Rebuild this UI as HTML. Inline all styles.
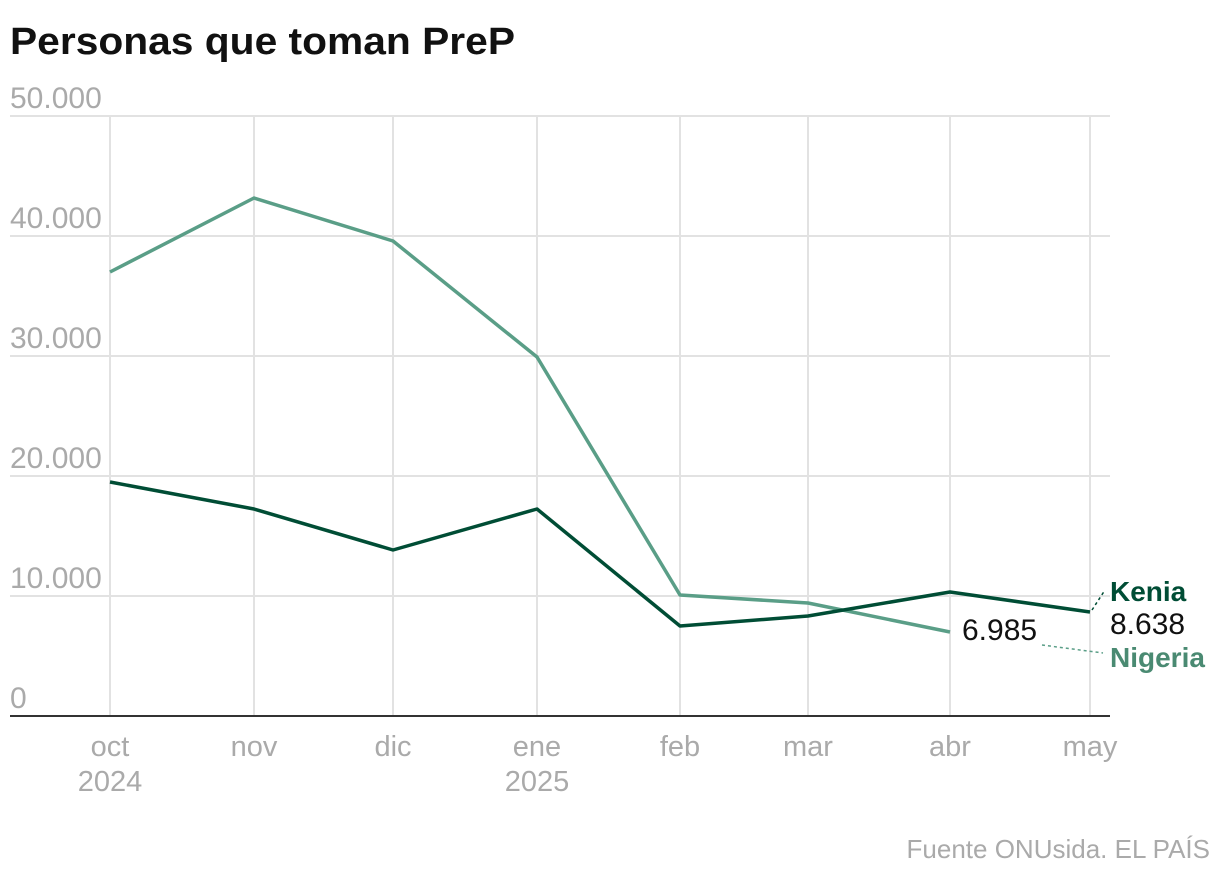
<!DOCTYPE html>
<html><head><meta charset="utf-8"><style>
body{margin:0;background:#fff;}
svg text{font-family:"Liberation Sans",sans-serif;}
</style></head><body>
<svg width="1220" height="878" viewBox="0 0 1220 878" xmlns="http://www.w3.org/2000/svg">
<text x="10" y="54" font-size="38" font-weight="bold" fill="#111" textLength="505" lengthAdjust="spacingAndGlyphs">Personas que toman PreP</text>
<g stroke="#e2e2e2" stroke-width="2">
<line x1="10" y1="116" x2="1110" y2="116"/>
<line x1="10" y1="236" x2="1110" y2="236"/>
<line x1="10" y1="356" x2="1110" y2="356"/>
<line x1="10" y1="476" x2="1110" y2="476"/>
<line x1="10" y1="596" x2="1110" y2="596"/>
<line x1="110" y1="116" x2="110" y2="716"/>
<line x1="254" y1="116" x2="254" y2="716"/>
<line x1="393" y1="116" x2="393" y2="716"/>
<line x1="537" y1="116" x2="537" y2="716"/>
<line x1="680" y1="116" x2="680" y2="716"/>
<line x1="808" y1="116" x2="808" y2="716"/>
<line x1="950" y1="116" x2="950" y2="716"/>
<line x1="1090" y1="116" x2="1090" y2="716"/>
</g>
<line x1="10" y1="716" x2="1110" y2="716" stroke="#333" stroke-width="2"/>
<g font-size="30" fill="#aaa">
<text x="10" y="108">50.000</text>
<text x="10" y="228">40.000</text>
<text x="10" y="348">30.000</text>
<text x="10" y="468">20.000</text>
<text x="10" y="588">10.000</text>
<text x="10" y="708">0</text>
</g>
<g font-size="29" fill="#aaa" text-anchor="middle">
<text x="110" y="756">oct</text><text x="110" y="791">2024</text>
<text x="254" y="756">nov</text>
<text x="393" y="756">dic</text>
<text x="537" y="756">ene</text><text x="537" y="791">2025</text>
<text x="680" y="756">feb</text>
<text x="808" y="756">mar</text>
<text x="950" y="756">abr</text>
<text x="1090" y="756">may</text>
</g>
<polyline fill="none" stroke="#5a9e87" stroke-width="3.5" stroke-linejoin="round" points="110,272 254,198 393,241 537,357 680,595 808,603 950,632"/>
<polyline fill="none" stroke="#004d35" stroke-width="3.5" stroke-linejoin="round" points="110,482 254,509 393,550 537,509 680,626 808,616 950,592 1090,612"/>
<line x1="1092" y1="610" x2="1105" y2="590" stroke="#004d35" stroke-width="1.5" stroke-dasharray="3,3"/>
<line x1="1042" y1="645" x2="1103" y2="653" stroke="#5a9e87" stroke-width="1.5" stroke-dasharray="3,3"/>
<text x="1110" y="601" font-size="28" font-weight="bold" fill="#004d35">Kenia</text>
<text x="1110" y="634" font-size="30" fill="#111">8.638</text>
<text x="1110" y="667" font-size="28" font-weight="bold" fill="#4a8a72">Nigeria</text>
<text x="962" y="640" font-size="30" fill="#111">6.985</text>
<text x="1210" y="858" font-size="26" fill="#aaa" text-anchor="end">Fuente ONUsida. EL PAÍS</text>
</svg>
</body></html>
